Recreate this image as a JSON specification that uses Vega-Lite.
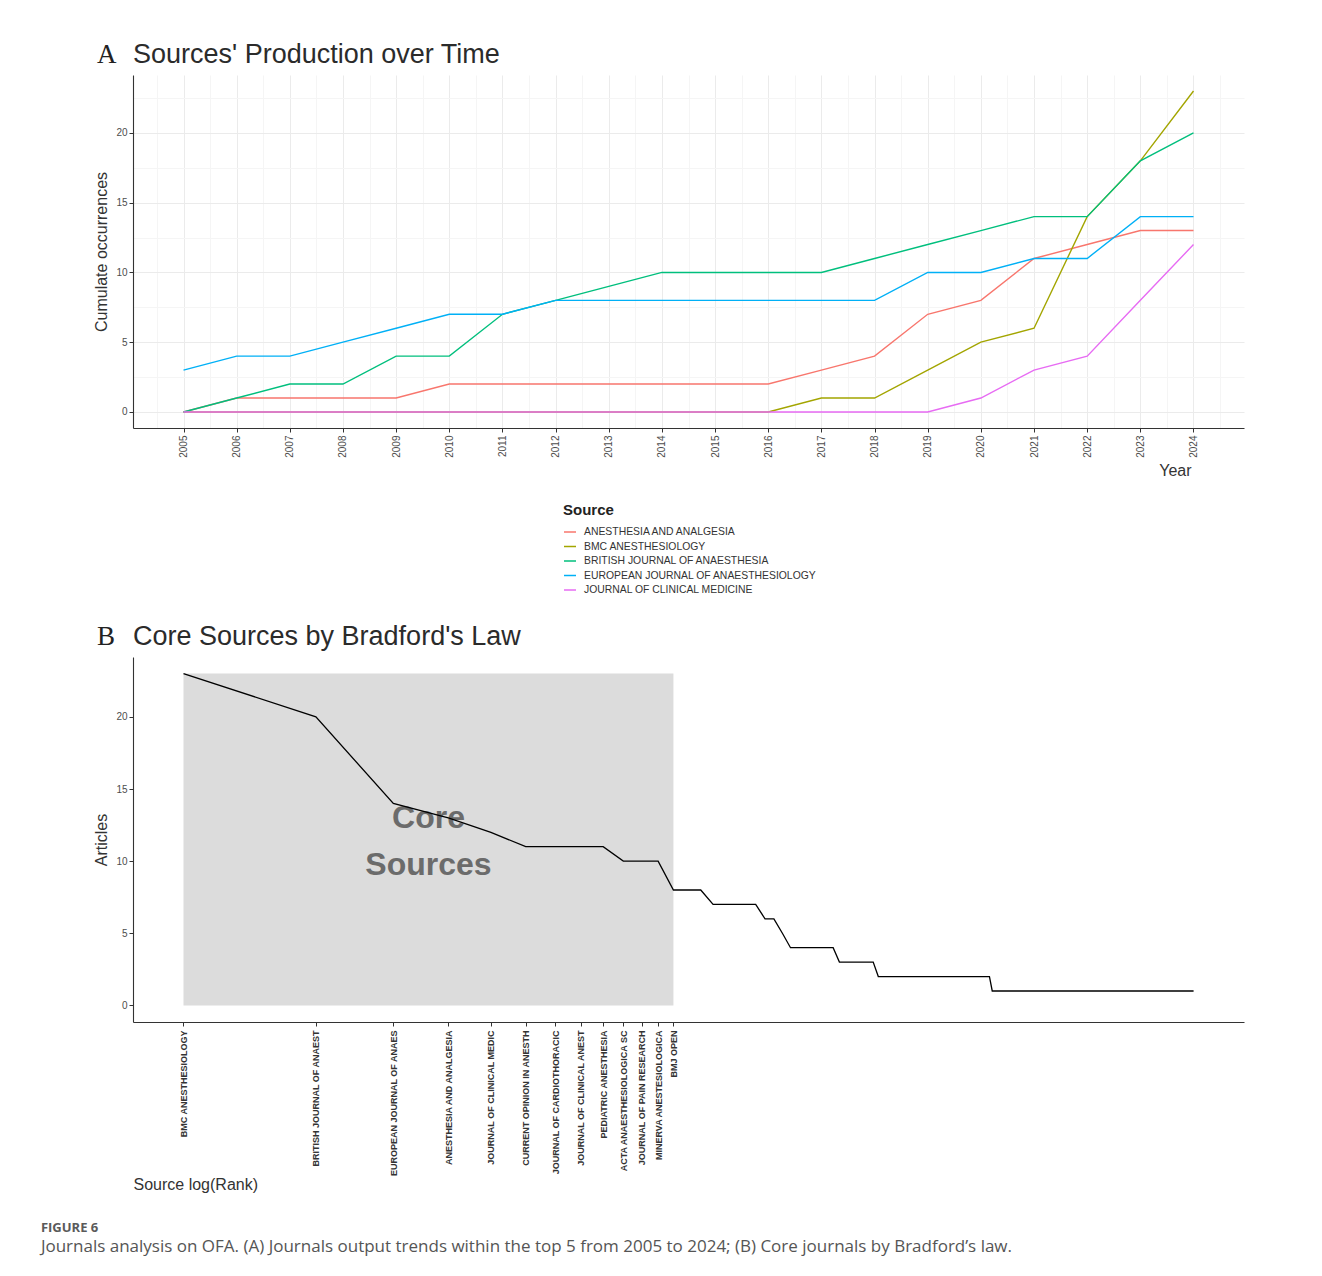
{
  "$schema": "https://vega.github.io/schema/vega-lite/v6.json",
  "background": "white",
  "padding": {"left": 40, "top": 41, "right": 10, "bottom": 10},
  "config": {
    "font": "Liberation Sans",
    "view": {"stroke": null},
    "axis": {"domainColor": "#333333", "domainWidth": 1.1, "tickColor": "#333333", "tickSize": 4, "labelColor": "#4d4d4d", "labelFontSize": 10, "labelPadding": 2, "titleFontWeight": "normal", "titleFontSize": 16, "titleColor": "#333333", "grid": false}
  },
  "title": {
    "text": "FIGURE 6",
    "subtitle": "Journals analysis on OFA. (A) Journals output trends within the top 5 from 2005 to 2024; (B) Core journals by Bradford’s law.",
    "orient": "bottom", "anchor": "start", "frame": "bounds",
    "font": "Open Sans", "fontSize": 13, "fontWeight": "bold", "color": "#5a5a5a",
    "subtitleFont": "Open Sans", "subtitleFontSize": 17, "subtitleColor": "#555555", "subtitlePadding": 4,
    "dx": -53, "offset": 30
  },
  "spacing": 27,
  "vconcat": [
    {
      "title": {"text": "A", "font": "Liberation Serif", "fontSize": 27, "fontWeight": "normal", "color": "#222222", "anchor": "start", "frame": "bounds", "offset": -28, "dx": 3},
      "resolve": {"scale": {"color": "independent"}, "legend": {"color": "independent"}},
      "vconcat": [
        {
          "title": {"text": "Sources' Production over Time", "anchor": "start", "frame": "group", "fontSize": 27, "fontWeight": "normal", "color": "#2b2b2b", "offset": 6},
          "width": 1111,
          "height": 353,
          "data": {"values": [
            {"Year": 2005, "Source": "ANESTHESIA AND ANALGESIA", "N": 0},
            {"Year": 2006, "Source": "ANESTHESIA AND ANALGESIA", "N": 1},
            {"Year": 2007, "Source": "ANESTHESIA AND ANALGESIA", "N": 1},
            {"Year": 2008, "Source": "ANESTHESIA AND ANALGESIA", "N": 1},
            {"Year": 2009, "Source": "ANESTHESIA AND ANALGESIA", "N": 1},
            {"Year": 2010, "Source": "ANESTHESIA AND ANALGESIA", "N": 2},
            {"Year": 2011, "Source": "ANESTHESIA AND ANALGESIA", "N": 2},
            {"Year": 2012, "Source": "ANESTHESIA AND ANALGESIA", "N": 2},
            {"Year": 2013, "Source": "ANESTHESIA AND ANALGESIA", "N": 2},
            {"Year": 2014, "Source": "ANESTHESIA AND ANALGESIA", "N": 2},
            {"Year": 2015, "Source": "ANESTHESIA AND ANALGESIA", "N": 2},
            {"Year": 2016, "Source": "ANESTHESIA AND ANALGESIA", "N": 2},
            {"Year": 2017, "Source": "ANESTHESIA AND ANALGESIA", "N": 3},
            {"Year": 2018, "Source": "ANESTHESIA AND ANALGESIA", "N": 4},
            {"Year": 2019, "Source": "ANESTHESIA AND ANALGESIA", "N": 7},
            {"Year": 2020, "Source": "ANESTHESIA AND ANALGESIA", "N": 8},
            {"Year": 2021, "Source": "ANESTHESIA AND ANALGESIA", "N": 11},
            {"Year": 2022, "Source": "ANESTHESIA AND ANALGESIA", "N": 12},
            {"Year": 2023, "Source": "ANESTHESIA AND ANALGESIA", "N": 13},
            {"Year": 2024, "Source": "ANESTHESIA AND ANALGESIA", "N": 13},
            {"Year": 2005, "Source": "BMC ANESTHESIOLOGY", "N": 0},
            {"Year": 2006, "Source": "BMC ANESTHESIOLOGY", "N": 0},
            {"Year": 2007, "Source": "BMC ANESTHESIOLOGY", "N": 0},
            {"Year": 2008, "Source": "BMC ANESTHESIOLOGY", "N": 0},
            {"Year": 2009, "Source": "BMC ANESTHESIOLOGY", "N": 0},
            {"Year": 2010, "Source": "BMC ANESTHESIOLOGY", "N": 0},
            {"Year": 2011, "Source": "BMC ANESTHESIOLOGY", "N": 0},
            {"Year": 2012, "Source": "BMC ANESTHESIOLOGY", "N": 0},
            {"Year": 2013, "Source": "BMC ANESTHESIOLOGY", "N": 0},
            {"Year": 2014, "Source": "BMC ANESTHESIOLOGY", "N": 0},
            {"Year": 2015, "Source": "BMC ANESTHESIOLOGY", "N": 0},
            {"Year": 2016, "Source": "BMC ANESTHESIOLOGY", "N": 0},
            {"Year": 2017, "Source": "BMC ANESTHESIOLOGY", "N": 1},
            {"Year": 2018, "Source": "BMC ANESTHESIOLOGY", "N": 1},
            {"Year": 2019, "Source": "BMC ANESTHESIOLOGY", "N": 3},
            {"Year": 2020, "Source": "BMC ANESTHESIOLOGY", "N": 5},
            {"Year": 2021, "Source": "BMC ANESTHESIOLOGY", "N": 6},
            {"Year": 2022, "Source": "BMC ANESTHESIOLOGY", "N": 14},
            {"Year": 2023, "Source": "BMC ANESTHESIOLOGY", "N": 18},
            {"Year": 2024, "Source": "BMC ANESTHESIOLOGY", "N": 23},
            {"Year": 2005, "Source": "BRITISH JOURNAL OF ANAESTHESIA", "N": 0},
            {"Year": 2006, "Source": "BRITISH JOURNAL OF ANAESTHESIA", "N": 1},
            {"Year": 2007, "Source": "BRITISH JOURNAL OF ANAESTHESIA", "N": 2},
            {"Year": 2008, "Source": "BRITISH JOURNAL OF ANAESTHESIA", "N": 2},
            {"Year": 2009, "Source": "BRITISH JOURNAL OF ANAESTHESIA", "N": 4},
            {"Year": 2010, "Source": "BRITISH JOURNAL OF ANAESTHESIA", "N": 4},
            {"Year": 2011, "Source": "BRITISH JOURNAL OF ANAESTHESIA", "N": 7},
            {"Year": 2012, "Source": "BRITISH JOURNAL OF ANAESTHESIA", "N": 8},
            {"Year": 2013, "Source": "BRITISH JOURNAL OF ANAESTHESIA", "N": 9},
            {"Year": 2014, "Source": "BRITISH JOURNAL OF ANAESTHESIA", "N": 10},
            {"Year": 2015, "Source": "BRITISH JOURNAL OF ANAESTHESIA", "N": 10},
            {"Year": 2016, "Source": "BRITISH JOURNAL OF ANAESTHESIA", "N": 10},
            {"Year": 2017, "Source": "BRITISH JOURNAL OF ANAESTHESIA", "N": 10},
            {"Year": 2018, "Source": "BRITISH JOURNAL OF ANAESTHESIA", "N": 11},
            {"Year": 2019, "Source": "BRITISH JOURNAL OF ANAESTHESIA", "N": 12},
            {"Year": 2020, "Source": "BRITISH JOURNAL OF ANAESTHESIA", "N": 13},
            {"Year": 2021, "Source": "BRITISH JOURNAL OF ANAESTHESIA", "N": 14},
            {"Year": 2022, "Source": "BRITISH JOURNAL OF ANAESTHESIA", "N": 14},
            {"Year": 2023, "Source": "BRITISH JOURNAL OF ANAESTHESIA", "N": 18},
            {"Year": 2024, "Source": "BRITISH JOURNAL OF ANAESTHESIA", "N": 20},
            {"Year": 2005, "Source": "EUROPEAN JOURNAL OF ANAESTHESIOLOGY", "N": 3},
            {"Year": 2006, "Source": "EUROPEAN JOURNAL OF ANAESTHESIOLOGY", "N": 4},
            {"Year": 2007, "Source": "EUROPEAN JOURNAL OF ANAESTHESIOLOGY", "N": 4},
            {"Year": 2008, "Source": "EUROPEAN JOURNAL OF ANAESTHESIOLOGY", "N": 5},
            {"Year": 2009, "Source": "EUROPEAN JOURNAL OF ANAESTHESIOLOGY", "N": 6},
            {"Year": 2010, "Source": "EUROPEAN JOURNAL OF ANAESTHESIOLOGY", "N": 7},
            {"Year": 2011, "Source": "EUROPEAN JOURNAL OF ANAESTHESIOLOGY", "N": 7},
            {"Year": 2012, "Source": "EUROPEAN JOURNAL OF ANAESTHESIOLOGY", "N": 8},
            {"Year": 2013, "Source": "EUROPEAN JOURNAL OF ANAESTHESIOLOGY", "N": 8},
            {"Year": 2014, "Source": "EUROPEAN JOURNAL OF ANAESTHESIOLOGY", "N": 8},
            {"Year": 2015, "Source": "EUROPEAN JOURNAL OF ANAESTHESIOLOGY", "N": 8},
            {"Year": 2016, "Source": "EUROPEAN JOURNAL OF ANAESTHESIOLOGY", "N": 8},
            {"Year": 2017, "Source": "EUROPEAN JOURNAL OF ANAESTHESIOLOGY", "N": 8},
            {"Year": 2018, "Source": "EUROPEAN JOURNAL OF ANAESTHESIOLOGY", "N": 8},
            {"Year": 2019, "Source": "EUROPEAN JOURNAL OF ANAESTHESIOLOGY", "N": 10},
            {"Year": 2020, "Source": "EUROPEAN JOURNAL OF ANAESTHESIOLOGY", "N": 10},
            {"Year": 2021, "Source": "EUROPEAN JOURNAL OF ANAESTHESIOLOGY", "N": 11},
            {"Year": 2022, "Source": "EUROPEAN JOURNAL OF ANAESTHESIOLOGY", "N": 11},
            {"Year": 2023, "Source": "EUROPEAN JOURNAL OF ANAESTHESIOLOGY", "N": 14},
            {"Year": 2024, "Source": "EUROPEAN JOURNAL OF ANAESTHESIOLOGY", "N": 14},
            {"Year": 2005, "Source": "JOURNAL OF CLINICAL MEDICINE", "N": 0},
            {"Year": 2006, "Source": "JOURNAL OF CLINICAL MEDICINE", "N": 0},
            {"Year": 2007, "Source": "JOURNAL OF CLINICAL MEDICINE", "N": 0},
            {"Year": 2008, "Source": "JOURNAL OF CLINICAL MEDICINE", "N": 0},
            {"Year": 2009, "Source": "JOURNAL OF CLINICAL MEDICINE", "N": 0},
            {"Year": 2010, "Source": "JOURNAL OF CLINICAL MEDICINE", "N": 0},
            {"Year": 2011, "Source": "JOURNAL OF CLINICAL MEDICINE", "N": 0},
            {"Year": 2012, "Source": "JOURNAL OF CLINICAL MEDICINE", "N": 0},
            {"Year": 2013, "Source": "JOURNAL OF CLINICAL MEDICINE", "N": 0},
            {"Year": 2014, "Source": "JOURNAL OF CLINICAL MEDICINE", "N": 0},
            {"Year": 2015, "Source": "JOURNAL OF CLINICAL MEDICINE", "N": 0},
            {"Year": 2016, "Source": "JOURNAL OF CLINICAL MEDICINE", "N": 0},
            {"Year": 2017, "Source": "JOURNAL OF CLINICAL MEDICINE", "N": 0},
            {"Year": 2018, "Source": "JOURNAL OF CLINICAL MEDICINE", "N": 0},
            {"Year": 2019, "Source": "JOURNAL OF CLINICAL MEDICINE", "N": 0},
            {"Year": 2020, "Source": "JOURNAL OF CLINICAL MEDICINE", "N": 1},
            {"Year": 2021, "Source": "JOURNAL OF CLINICAL MEDICINE", "N": 3},
            {"Year": 2022, "Source": "JOURNAL OF CLINICAL MEDICINE", "N": 4},
            {"Year": 2023, "Source": "JOURNAL OF CLINICAL MEDICINE", "N": 8},
            {"Year": 2024, "Source": "JOURNAL OF CLINICAL MEDICINE", "N": 12}
          ]},
          "mark": {"type": "line", "strokeWidth": 1.4},
          "encoding": {
            "x": {
              "field": "Year", "type": "quantitative",
              "scale": {"domain": [2004.05, 2024.95], "nice": false, "zero": false},
              "axis": {
                "values": [2004.5, 2005, 2005.5, 2006, 2006.5, 2007, 2007.5, 2008, 2008.5, 2009, 2009.5, 2010, 2010.5, 2011, 2011.5, 2012, 2012.5, 2013, 2013.5, 2014, 2014.5, 2015, 2015.5, 2016, 2016.5, 2017, 2017.5, 2018, 2018.5, 2019, 2019.5, 2020, 2020.5, 2021, 2021.5, 2022, 2022.5, 2023, 2023.5, 2024, 2024.5],
                "labelExpr": "floor(datum.value) === datum.value ? '' + datum.value : ''",
                "labelAngle": 270, "labelAlign": "right", "labelBaseline": "middle", "labelPadding": 3,
                "labelOverlap": false, "labelBound": false, "labelFlush": false,
                "grid": true,
                "gridColor": {"condition": {"test": "floor(datum.value) === datum.value", "value": "#ebebeb"}, "value": "#f5f5f5"},
                "tickOpacity": {"condition": {"test": "floor(datum.value) === datum.value", "value": 1}, "value": 0},
                "title": "Year", "titleX": 1058, "titleY": 47, "titleAlign": "right", "titleBaseline": "alphabetic"
              }
            },
            "y": {
              "field": "N", "type": "quantitative",
              "scale": {"domain": [-1.15, 24.15], "nice": false, "zero": false},
              "axis": {
                "values": [0, 2.5, 5, 7.5, 10, 12.5, 15, 17.5, 20, 22.5],
                "labelExpr": "datum.value % 5 === 0 ? datum.label : ''",
                "grid": true,
                "gridColor": {"condition": {"test": "datum.value % 5 === 0", "value": "#ebebeb"}, "value": "#f5f5f5"},
                "tickOpacity": {"condition": {"test": "datum.value % 5 === 0", "value": 1}, "value": 0},
                "title": "Cumulate occurrences", "titlePadding": 6
              }
            },
            "color": {
              "field": "Source", "type": "nominal",
              "scale": {"range": ["#F8766D", "#A3A500", "#00BF7D", "#00B0F6", "#E76BF3"]},
              "legend": {
                "orient": "none", "legendX": 430, "legendY": 428, "direction": "vertical",
                "title": "Source", "titleFontSize": 15, "titleFontWeight": "bold", "titleColor": "#222222", "titlePadding": 7,
                "symbolType": "stroke", "symbolSize": 144, "symbolStrokeWidth": 1.5,
                "labelFontSize": 10.4, "labelColor": "#333333", "labelOffset": 7, "labelLimit": 500, "rowPadding": 1.5
              }
            }
          }
        }
      ]
    },
    {
      "title": {"text": "B", "font": "Liberation Serif", "fontSize": 27, "fontWeight": "normal", "color": "#222222", "anchor": "start", "frame": "bounds", "offset": -28, "dx": 3},
      "vconcat": [
        {
          "title": {"text": "Core Sources by Bradford's Law", "anchor": "start", "frame": "group", "fontSize": 27, "fontWeight": "normal", "color": "#2b2b2b", "offset": 6},
          "width": 1111,
          "height": 365,
          "layer": [
            {
              "data": {"values": [{"start": 1, "end": 13, "low": 0, "high": 23}]},
              "mark": {"type": "rect", "color": "#dcdcdc"},
              "encoding": {
                "x": {
                  "field": "start", "type": "quantitative",
                  "scale": {"type": "log", "domain": [0.7677, 257.8], "nice": false},
                  "axis": {
                    "values": [1, 2, 3, 4, 5, 6, 7, 8, 9, 10, 11, 12, 13],
                    "labelExpr": "['', 'BMC ANESTHESIOLOGY', 'BRITISH JOURNAL OF ANAEST', 'EUROPEAN JOURNAL OF ANAES', 'ANESTHESIA AND ANALGESIA', 'JOURNAL OF CLINICAL MEDIC', 'CURRENT OPINION IN ANESTH', 'JOURNAL OF CARDIOTHORACIC', 'JOURNAL OF CLINICAL ANEST', 'PEDIATRIC ANESTHESIA', 'ACTA ANAESTHESIOLOGICA SC', 'JOURNAL OF PAIN RESEARCH', 'MINERVA ANESTESIOLOGICA', 'BMJ OPEN'][datum.value]",
                    "labelAngle": -90, "labelAlign": "right", "labelBaseline": "middle", "labelPadding": 4,
                    "labelFontSize": 9, "labelFontWeight": "bold", "labelColor": "#333333", "labelOverlap": false,
                    "title": "Source log(Rank)", "titleX": 0, "titleY": 167, "titleAlign": "left", "titleBaseline": "alphabetic"
                  }
                },
                "x2": {"field": "end"},
                "y": {
                  "field": "low", "type": "quantitative",
                  "scale": {"domain": [-1.15, 24.15], "nice": false, "zero": false},
                  "axis": {"values": [0, 5, 10, 15, 20], "title": "Articles", "titlePadding": 6}
                },
                "y2": {"field": "high"}
              }
            },
            {
              "data": {"values": [{"cx": 3.606, "cy": 13.0, "label": "Core\nSources"}]},
              "mark": {"type": "text", "lineBreak": "\n", "fontSize": 32, "fontWeight": "bold", "color": "#6b6b6b", "lineHeight": 47, "align": "center", "baseline": "middle"},
              "encoding": {
                "x": {"field": "cx", "type": "quantitative"},
                "y": {"field": "cy", "type": "quantitative"},
                "text": {"field": "label"}
              }
            },
            {
              "data": {"values": [
                {"Rank": 1, "Articles": 23}, {"Rank": 2, "Articles": 20}, {"Rank": 3, "Articles": 14}, {"Rank": 4, "Articles": 13}, {"Rank": 5, "Articles": 12},
                {"Rank": 6, "Articles": 11}, {"Rank": 7, "Articles": 11}, {"Rank": 8, "Articles": 11}, {"Rank": 9, "Articles": 11}, {"Rank": 10, "Articles": 10},
                {"Rank": 11, "Articles": 10}, {"Rank": 12, "Articles": 10}, {"Rank": 13, "Articles": 8}, {"Rank": 14, "Articles": 8}, {"Rank": 15, "Articles": 8},
                {"Rank": 16, "Articles": 7}, {"Rank": 17, "Articles": 7}, {"Rank": 18, "Articles": 7}, {"Rank": 19, "Articles": 7}, {"Rank": 20, "Articles": 7},
                {"Rank": 21, "Articles": 6}, {"Rank": 22, "Articles": 6}, {"Rank": 23, "Articles": 5}, {"Rank": 24, "Articles": 4}, {"Rank": 25, "Articles": 4},
                {"Rank": 26, "Articles": 4}, {"Rank": 27, "Articles": 4}, {"Rank": 28, "Articles": 4}, {"Rank": 29, "Articles": 4}, {"Rank": 30, "Articles": 4},
                {"Rank": 31, "Articles": 3}, {"Rank": 32, "Articles": 3}, {"Rank": 33, "Articles": 3}, {"Rank": 34, "Articles": 3}, {"Rank": 35, "Articles": 3},
                {"Rank": 36, "Articles": 3}, {"Rank": 37, "Articles": 3}, {"Rank": 38, "Articles": 2}, {"Rank": 39, "Articles": 2}, {"Rank": 40, "Articles": 2},
                {"Rank": 41, "Articles": 2}, {"Rank": 42, "Articles": 2}, {"Rank": 43, "Articles": 2}, {"Rank": 44, "Articles": 2}, {"Rank": 45, "Articles": 2},
                {"Rank": 46, "Articles": 2}, {"Rank": 47, "Articles": 2}, {"Rank": 48, "Articles": 2}, {"Rank": 49, "Articles": 2}, {"Rank": 50, "Articles": 2},
                {"Rank": 51, "Articles": 2}, {"Rank": 52, "Articles": 2}, {"Rank": 53, "Articles": 2}, {"Rank": 54, "Articles": 2}, {"Rank": 55, "Articles": 2},
                {"Rank": 56, "Articles": 2}, {"Rank": 57, "Articles": 2}, {"Rank": 58, "Articles": 2}, {"Rank": 59, "Articles": 2}, {"Rank": 60, "Articles": 2},
                {"Rank": 61, "Articles": 2}, {"Rank": 62, "Articles": 2}, {"Rank": 63, "Articles": 2}, {"Rank": 64, "Articles": 2}, {"Rank": 65, "Articles": 2},
                {"Rank": 66, "Articles": 2}, {"Rank": 67, "Articles": 2}, {"Rank": 68, "Articles": 2}, {"Rank": 69, "Articles": 1}, {"Rank": 70, "Articles": 1},
                {"Rank": 71, "Articles": 1}, {"Rank": 72, "Articles": 1}, {"Rank": 73, "Articles": 1}, {"Rank": 74, "Articles": 1}, {"Rank": 75, "Articles": 1},
                {"Rank": 76, "Articles": 1}, {"Rank": 77, "Articles": 1}, {"Rank": 78, "Articles": 1}, {"Rank": 79, "Articles": 1}, {"Rank": 80, "Articles": 1},
                {"Rank": 81, "Articles": 1}, {"Rank": 82, "Articles": 1}, {"Rank": 83, "Articles": 1}, {"Rank": 84, "Articles": 1}, {"Rank": 85, "Articles": 1},
                {"Rank": 86, "Articles": 1}, {"Rank": 87, "Articles": 1}, {"Rank": 88, "Articles": 1}, {"Rank": 89, "Articles": 1}, {"Rank": 90, "Articles": 1},
                {"Rank": 91, "Articles": 1}, {"Rank": 92, "Articles": 1}, {"Rank": 93, "Articles": 1}, {"Rank": 94, "Articles": 1}, {"Rank": 95, "Articles": 1},
                {"Rank": 96, "Articles": 1}, {"Rank": 97, "Articles": 1}, {"Rank": 98, "Articles": 1}, {"Rank": 99, "Articles": 1}, {"Rank": 100, "Articles": 1},
                {"Rank": 101, "Articles": 1}, {"Rank": 102, "Articles": 1}, {"Rank": 103, "Articles": 1}, {"Rank": 104, "Articles": 1}, {"Rank": 105, "Articles": 1},
                {"Rank": 106, "Articles": 1}, {"Rank": 107, "Articles": 1}, {"Rank": 108, "Articles": 1}, {"Rank": 109, "Articles": 1}, {"Rank": 110, "Articles": 1},
                {"Rank": 111, "Articles": 1}, {"Rank": 112, "Articles": 1}, {"Rank": 113, "Articles": 1}, {"Rank": 114, "Articles": 1}, {"Rank": 115, "Articles": 1},
                {"Rank": 116, "Articles": 1}, {"Rank": 117, "Articles": 1}, {"Rank": 118, "Articles": 1}, {"Rank": 119, "Articles": 1}, {"Rank": 120, "Articles": 1},
                {"Rank": 121, "Articles": 1}, {"Rank": 122, "Articles": 1}, {"Rank": 123, "Articles": 1}, {"Rank": 124, "Articles": 1}, {"Rank": 125, "Articles": 1},
                {"Rank": 126, "Articles": 1}, {"Rank": 127, "Articles": 1}, {"Rank": 128, "Articles": 1}, {"Rank": 129, "Articles": 1}, {"Rank": 130, "Articles": 1},
                {"Rank": 131, "Articles": 1}, {"Rank": 132, "Articles": 1}, {"Rank": 133, "Articles": 1}, {"Rank": 134, "Articles": 1}, {"Rank": 135, "Articles": 1},
                {"Rank": 136, "Articles": 1}, {"Rank": 137, "Articles": 1}, {"Rank": 138, "Articles": 1}, {"Rank": 139, "Articles": 1}, {"Rank": 140, "Articles": 1},
                {"Rank": 141, "Articles": 1}, {"Rank": 142, "Articles": 1}, {"Rank": 143, "Articles": 1}, {"Rank": 144, "Articles": 1}, {"Rank": 145, "Articles": 1},
                {"Rank": 146, "Articles": 1}, {"Rank": 147, "Articles": 1}, {"Rank": 148, "Articles": 1}, {"Rank": 149, "Articles": 1}, {"Rank": 150, "Articles": 1},
                {"Rank": 151, "Articles": 1}, {"Rank": 152, "Articles": 1}, {"Rank": 153, "Articles": 1}, {"Rank": 154, "Articles": 1}, {"Rank": 155, "Articles": 1},
                {"Rank": 156, "Articles": 1}, {"Rank": 157, "Articles": 1}, {"Rank": 158, "Articles": 1}, {"Rank": 159, "Articles": 1}, {"Rank": 160, "Articles": 1},
                {"Rank": 161, "Articles": 1}, {"Rank": 162, "Articles": 1}, {"Rank": 163, "Articles": 1}, {"Rank": 164, "Articles": 1}, {"Rank": 165, "Articles": 1},
                {"Rank": 166, "Articles": 1}, {"Rank": 167, "Articles": 1}, {"Rank": 168, "Articles": 1}, {"Rank": 169, "Articles": 1}, {"Rank": 170, "Articles": 1},
                {"Rank": 171, "Articles": 1}, {"Rank": 172, "Articles": 1}, {"Rank": 173, "Articles": 1}, {"Rank": 174, "Articles": 1}, {"Rank": 175, "Articles": 1},
                {"Rank": 176, "Articles": 1}, {"Rank": 177, "Articles": 1}, {"Rank": 178, "Articles": 1}, {"Rank": 179, "Articles": 1}, {"Rank": 180, "Articles": 1},
                {"Rank": 181, "Articles": 1}, {"Rank": 182, "Articles": 1}, {"Rank": 183, "Articles": 1}, {"Rank": 184, "Articles": 1}, {"Rank": 185, "Articles": 1},
                {"Rank": 186, "Articles": 1}, {"Rank": 187, "Articles": 1}, {"Rank": 188, "Articles": 1}, {"Rank": 189, "Articles": 1}, {"Rank": 190, "Articles": 1},
                {"Rank": 191, "Articles": 1}, {"Rank": 192, "Articles": 1}, {"Rank": 193, "Articles": 1}, {"Rank": 194, "Articles": 1}, {"Rank": 195, "Articles": 1},
                {"Rank": 196, "Articles": 1}, {"Rank": 197, "Articles": 1}, {"Rank": 198, "Articles": 1}
              ]},
              "mark": {"type": "line", "color": "#000000", "strokeWidth": 1.3},
              "encoding": {
                "x": {"field": "Rank", "type": "quantitative"},
                "y": {"field": "Articles", "type": "quantitative"}
              }
            }
          ]
        }
      ]
    }
  ]
}
